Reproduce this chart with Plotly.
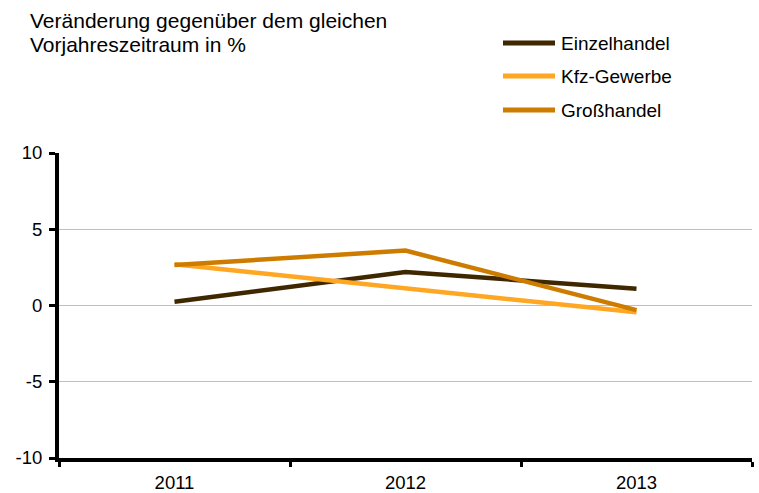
import plotly.graph_objects as go

years = ["2011", "2012", "2013"]
einzelhandel = [0.25, 2.2, 1.1]
kfz_gewerbe = [2.7, 1.1, -0.45]
grosshandel = [2.65, 3.6, -0.3]
y_ticks = [-10, -5, 0, 5, 10]
y_tick_labels = ["-10", "-5", "0", "5", "10"]
series_names = ["Einzelhandel", "Kfz-Gewerbe", "Großhandel"]
series_colors = ["#3F2700", "#FFA622", "#CE7C00"]
title_lines = ["Veränderung gegenüber dem gleichen", "Vorjahreszeitraum in %"]

series_values = [einzelhandel, kfz_gewerbe, grosshandel]

W, H = 759, 493
ml, mr, mt, mb = 59, 7, 153, 35
pw = W - ml - mr
ph = H - mt - mb


def px_x(px):
    return (px - ml) / pw


def px_y(py):
    return (H - mb - py) / ph


fig = go.Figure()
for name, vals, col in zip(series_names, series_values, series_colors):
    fig.add_trace(go.Scatter(
        x=years, y=vals, name=name, mode="lines",
        line=dict(color=col, width=4.5), showlegend=False,
    ))

shapes = []
annotations = []
legend_rows = [43, 76, 110]
for name, col, yy in zip(series_names, series_colors, legend_rows):
    shapes.append(dict(
        type="line", xref="paper", yref="paper",
        x0=px_x(503), x1=px_x(555), y0=px_y(yy), y1=px_y(yy),
        line=dict(color=col, width=5),
    ))
    annotations.append(dict(
        text=name, xref="paper", yref="paper",
        x=px_x(559), y=px_y(yy), xanchor="left", yanchor="middle",
        showarrow=False, font=dict(size=19),
    ))

for line, yy in zip(title_lines, [20, 45]):
    annotations.append(dict(
        text=line, xref="paper", yref="paper",
        x=px_x(28), y=px_y(yy), xanchor="left", yanchor="middle",
        showarrow=False, font=dict(size=21),
    ))

fig.update_layout(
    width=W, height=H,
    margin=dict(l=ml, r=mr, t=mt, b=mb, pad=0),
    plot_bgcolor="white", paper_bgcolor="white",
    font=dict(family="Liberation Sans, Arial, sans-serif", size=18.5, color="black"),
    showlegend=False,
    xaxis=dict(
        type="category", range=[-0.5, 2.5], automargin=False,
        showline=True, linecolor="black", linewidth=4,
        ticks="outside", tickson="boundaries", ticklen=5, tickwidth=3, tickcolor="black",
        showgrid=False, tickfont=dict(size=18.5), ticklabelstandoff=5,
    ),
    yaxis=dict(
        range=[-10, 10], tickvals=y_ticks, ticktext=y_tick_labels, automargin=False,
        showline=True, linecolor="black", linewidth=4,
        ticks="outside", ticklen=6, tickwidth=3, tickcolor="black",
        showgrid=True, gridcolor="#BFBFBF", gridwidth=1,
        zeroline=False, tickfont=dict(size=18.5), ticklabelstandoff=3,
    ),
    shapes=shapes,
    annotations=annotations,
)

fig.write_html(
    "out.html",
    config={"displayModeBar": False},
    post_script="document.body.style.margin='0';document.body.style.overflow='hidden';",
)
